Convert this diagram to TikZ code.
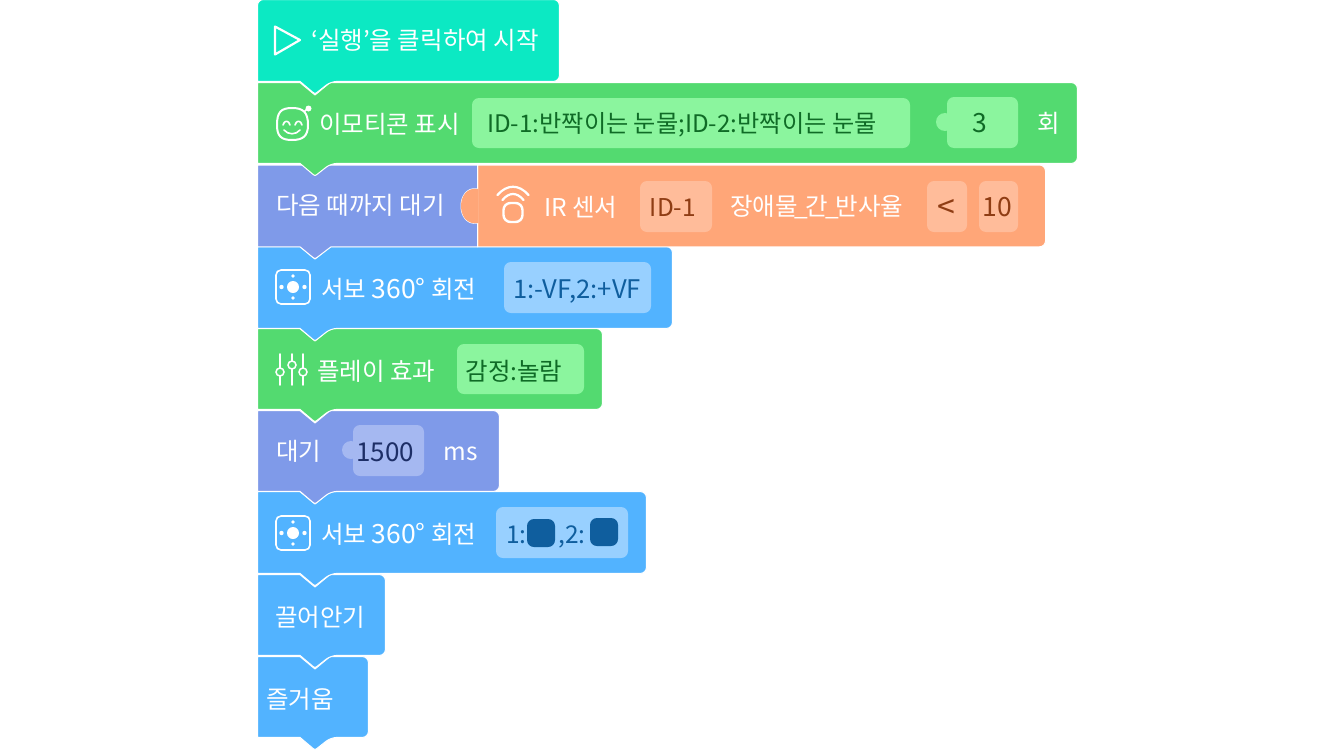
\documentclass[tikz,border=0pt]{standalone}
\usepackage{fontspec}
\setmainfont{Noto Sans CJK KR}
\definecolor{teal}{HTML}{0CE9C3}
\definecolor{grn}{HTML}{53DA70}
\definecolor{grnin}{HTML}{8BF59E}
\definecolor{grntx}{HTML}{0F6B26}
\definecolor{pur}{HTML}{7F9AE9}
\definecolor{purin}{HTML}{A5B8F1}
\definecolor{purtx}{HTML}{1D2E66}
\definecolor{org}{HTML}{FFA678}
\definecolor{orgin}{HTML}{FFBC9A}
\definecolor{orgtx}{HTML}{8F3D14}
\definecolor{blu}{HTML}{52B3FF}
\definecolor{bluin}{HTML}{98D0FF}
\definecolor{blutx}{HTML}{0F5E9E}
\newcommand{\blk}[4]{%
 \path[fill=#1,draw=white,line width=1pt,line join=round]
  (257.5,#2-.4) -- (300,#2-.4) -- (315,#2+12) -- (330,#2-.4)
  [rounded corners=6pt] -- (#4+.4,#2-.4) -- (#4+.4,#3+.4) -- (331,#3+.4)
  [sharp corners] -- (317,#3+11.4) .. controls (315.5,#3+12.9) and (314.5,#3+12.9) .. (313,#3+11.4)
  -- (300,#3+.4) -- (257.5,#3+.4) -- cycle;}
\newcommand{\la}[1]{{\fontsize{26.5}{26.5}\selectfont #1}}
\tikzset{x=1pt,y=-1pt,
 wt/.style={text=white,inner sep=0pt,font=\fontsize{24.5}{24.5}\selectfont,anchor=base west,yshift=-1pt},
 intx/.style={inner sep=0pt,font=\fontsize{24.5}{24.5}\selectfont,anchor=base,yshift=-1pt},
 icon/.style={draw=white,line width=2pt,line cap=round,line join=round},
 slot/.style={rounded corners=7pt}}
\begin{document}
\begin{tikzpicture}
\useasboundingbox (0,0) rectangle (1334,750);
\fill[white] (0,0) rectangle (1334,750);
% blocks, lowest first so each tab lies over the next block
\blk{blu}{657}{737}{368}
\blk{blu}{575}{655}{385}
\blk{blu}{492}{573}{646}
\blk{pur}{411}{491}{499}
\blk{grn}{329}{409}{602}
\blk{blu}{247}{328}{672}
% orange reporter
\path[fill=org,draw=white,line width=1pt,line join=round]
 (477.5,165) [rounded corners=6pt] -- (1045.5,165) -- (1045.5,246.8) [sharp corners] -- (477.5,246.8) -- cycle;
% purple block with socket
\path[fill=pur,draw=white,line width=1pt,line join=round]
 (257.5,165) -- (477.5,165) -- (477.5,189) .. controls (467,187) and (461,196) .. (461,206)
 .. controls (461,216) and (467,225) .. (477.5,223)
 -- (477.5,246.8) -- (331,246.8) -- (317,257.5) .. controls (315.5,259) and (314.5,259) .. (313,257.5)
 -- (300,246.8) -- (257.5,246.8) -- cycle;
\path[fill=org] (478,189) .. controls (467,187) and (461,196) .. (461,206)
 .. controls (461,216) and (467,225) .. (478,223) -- cycle;
\blk{grn}{83}{163}{1077}
% top block: no tab above it
\path[fill=teal,draw=white,line width=1pt,line join=round]
 (257.5,81.4) [rounded corners=6pt] -- (257.5,-.5) -- (559.4,-.5) -- (559.4,81.4) -- (331,81.4)
 [sharp corners] -- (317,92.4) .. controls (315.5,93.9) and (314.5,93.9) .. (313,92.4)
 -- (300,81.4) -- cycle;
% block 1
\draw[icon,line width=2.2pt] (275,26.5) -- (300,40) -- (275,54.5) -- cycle;
\node[wt] (t1) at (311,48) {‘실행’을 클릭하여 시작};
% block 2: emoticon
\draw[icon] (277,125) .. controls (277,112) and (281,108) .. (292,108) .. controls (303,108) and (308,112) .. (308,125) .. controls (308,136) and (303,140) .. (292,140) .. controls (281,140) and (277,136) .. (277,125) -- cycle;
\draw[white,line width=1.5pt] (304,112) -- (308,108);
\fill[white] (308.5,108.5) circle (3);
\draw[icon,line width=1.6pt] (283,125) .. controls (284,120) and (289,120) .. (290,125);
\draw[icon,line width=1.6pt] (295,125) .. controls (296,120) and (301,120) .. (302,125);
\draw[icon,line width=1.6pt] (284,130) .. controls (288,135) and (296,135) .. (300,130);
\node[wt] (t2) at (319,132) {이모티콘 표시};
\fill[grnin,slot] (472,98) rectangle (910,148);
\node[intx,text=grntx,anchor=base west,font=\fontsize{24.2}{24.2}\selectfont] (t2a) at (487,131) {ID-1:반짝이는 눈물;ID-2:반짝이는 눈물};
\fill[grnin] (945,122) circle (9);
\fill[grnin,slot] (947,97) rectangle (1018,148);
\node[intx,text=grntx] (t2b) at (980,131) {\la{3}};
\node[wt] (t2c) at (1037,131) {회};
% block 3
\node[wt] (t3) at (276,213) {다음 때까지 대기};
\draw[icon,line width=2.4pt,rounded corners=7pt] (503.5,203) rectangle (522.5,222);
\draw[icon,line width=2.2pt] (502.5,200) .. controls (509,192) and (517,192) .. (523.5,200);
\draw[icon,line width=2.2pt] (497.5,195) .. controls (507,184) and (519,184) .. (528.5,195);
\node[wt] (t3a) at (544,215) {IR 센서};
\fill[orgin,slot] (640,181) rectangle (712,232);
\node[intx,text=orgtx] (t3b) at (673,215) {ID-1};
\node[wt] (t3c) at (730,214) {장애물\kern-3pt\_\kern-3pt간\kern-3pt\_\kern-3pt반사율};
\fill[orgin,slot] (927,181) rectangle (967,232);
\node[intx,text=orgtx,font=\fontsize{32}{32}\selectfont] (t3d) at (946,217) {<};
\fill[orgin,slot] (979,181) rectangle (1018,232);
\node[intx,text=orgtx] (t3e) at (997,215) {\la{10}};
% block 4
\draw[icon,line width=1.6pt,rounded corners=5pt] (276,270) rectangle (310,304);
\fill[white] (293,287) circle (6) (281.5,287) circle (2.2) (304.5,287) circle (2.2) (293,276) circle (1.8) (293,298) circle (1.8);
\node[wt] (t4) at (321,297) {서보 \la{360°} 회전};
\fill[bluin,slot] (504,262) rectangle (651,313);
\node[intx,text=blutx,font=\fontsize{25.6}{25.6}\selectfont] (t4a) at (577,297) {1:-VF,2:+VF};
% block 5
\foreach \px/\py in {280/372,292/365,303/372}{
 \draw[icon,line width=1.6pt] (\px,354) -- (\px,\py-4) (\px,\py+4) -- (\px,385);
 \draw[white,line width=1.5pt] (\px,\py) circle (4);}
\node[wt] (t5) at (317,379) {플레이 효과};
\fill[grnin,slot] (457,344) rectangle (584,394);
\node[intx,text=grntx] (t5a) at (514,379) {감정:놀람};
% block 6
\node[wt] (t6) at (276,459) {대기};
\fill[purin] (351,450) circle (9);
\fill[purin,slot] (353,425) rectangle (424,476);
\node[intx,text=purtx,font=\fontsize{26}{26}\selectfont] (t6a) at (385,460) {1500};
\node[wt] (t6b) at (443.5,459) {ms};
% block 7
\draw[icon,line width=1.6pt,rounded corners=5pt] (276,516) rectangle (310,550);
\fill[white] (293,533) circle (6) (281.5,533) circle (2.2) (304.5,533) circle (2.2) (293,522) circle (1.8) (293,544) circle (1.8);
\node[wt] (t7) at (321,542) {서보 \la{360°} 회전};
\fill[bluin,slot] (496,507) rectangle (628,558);
\node[intx,text=blutx,anchor=base west] (t7a) at (506,542) {1:};
\fill[blutx,slot] (527,519) rectangle (555,547);
\node[intx,text=blutx,anchor=base west] (t7b) at (558,542) {,2:};
\fill[blutx,slot] (590,518) rectangle (618,546);
% blocks 8, 9
\node[wt] (t8) at (275,625) {끌어안기};
\node[wt] (t9) at (266,707) {즐거움};
\end{tikzpicture}
\end{document}
